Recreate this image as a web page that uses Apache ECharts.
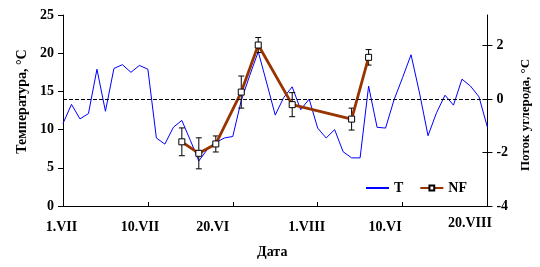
<!DOCTYPE html>
<html>
<head>
<meta charset="utf-8">
<script src="https://cdn.jsdelivr.net/npm/echarts@6/dist/echarts.min.js"></script>
<style>html,body{margin:0;padding:0;background:#fff;}#c{width:540px;height:267px;}</style>
</head>
<body>
<div id="c"></div>
<script>
// Daily temperature, 1.VII .. 20.VIII (index = day number from start)
const tempC = [10.8, 13.3, 11.4, 12.1, 17.9, 12.4, 18.0, 18.5, 17.5, 18.4,
  17.9, 8.9, 8.1, 10.3, 11.2, 8.6, 5.9, 7.4, 8.3, 8.9,
  9.1, 13.8, 17.1, 20.2, 16.1, 11.9, 14.2, 15.6, 12.6, 14.0,
  10.2, 8.9, 10.0, 7.1, 6.3, 6.3, 15.7, 10.3, 10.2, 13.9,
  16.8, 19.8, 14.8, 9.2, 12.2, 14.5, 13.2, 16.6, 15.7, 14.3,
  10.3];
// Carbon flux measurements
const nfDays = [14, 16, 18, 21, 23, 27, 34, 36];
const nfValues = [-1.6, -2.03, -1.68, 0.26, 2.02, -0.21, -0.75, 1.56];
const nfErrors = [0.52, 0.58, 0.3, 0.6, 0.28, 0.45, 0.41, 0.29];
// x tick labels (every 10 days)
const xTickLabels = ['1.VII', '10.VII', '20.VI', '1.VIII', '10.VI', '20.VIII'];
const leftTicks = [0, 5, 10, 15, 20, 25];
const rightTicks = [-4, -2, 0, 2];
const thresholdT = 14;

const FONT = 'Liberation Serif';
const tData = tempC.map((v, i) => [i, v]);
const nfData = nfDays.map((d, i) => [d, nfValues[i]]);
const errData = nfDays.map((d, i) => [d, nfValues[i] - nfErrors[i], nfValues[i] + nfErrors[i]]);

const labelPads = [[4,3,0,0],[4,16,0,0],[4,40,0,0],[4,22,0,0],[4,35,0,0],[0,35,0,0]];
const rich = {};
labelPads.forEach((p, i) => {
  rich['l' + i] = {padding: p, fontFamily: FONT, fontWeight: 'bold', fontSize: 14, color: '#000'};
});

const chart = echarts.init(document.getElementById('c'), null, {renderer: 'canvas'});
chart.setOption({
  animation: false,
  backgroundColor: '#fff',
  grid: {left: 63, right: 52, top: 15, bottom: 61},
  legend: {
    left: 360, top: 176,
    itemWidth: 23, itemHeight: 6, itemGap: 16,
    textStyle: {fontFamily: FONT, fontWeight: 'bold', fontSize: 14, color: '#000'},
    data: [
      {name: 'T', itemStyle: {opacity: 0}},
      {name: 'NF'}
    ]
  },
  xAxis: {
    type: 'value', min: 0, max: 50, interval: 10,
    name: 'Дата', nameLocation: 'middle', nameGap: 39,
    nameTextStyle: {fontFamily: FONT, fontWeight: 'bold', fontSize: 14, color: '#000', padding: [0, 6, 0, 0]},
    axisLine: {lineStyle: {color: '#000', width: 1}},
    axisTick: {inside: true, length: 4, lineStyle: {color: '#000'}},
    splitLine: {show: false},
    axisLabel: {
      margin: 10,
      formatter: v => '{l' + (v / 10) + '|' + xTickLabels[v / 10] + '}',
      rich: rich
    }
  },
  yAxis: [
    {
      type: 'value', min: 0, max: 25, interval: 5, position: 'left',
      name: 'Температура, °C', nameLocation: 'middle', nameGap: 33, nameRotate: 90,
      nameTextStyle: {fontFamily: FONT, fontWeight: 'bold', fontSize: 14, color: '#000', padding: [0, 0, 0, 18]},
      axisLine: {show: true, lineStyle: {color: '#000', width: 1}},
      axisTick: {show: true, inside: false, length: 5, lineStyle: {color: '#000'}},
      splitLine: {show: false},
      axisLabel: {margin: 9, fontFamily: FONT, fontWeight: 'bold', fontSize: 14, color: '#000',
        customValues: leftTicks}
    },
    {
      type: 'value', min: -4, max: 22 / 7, position: 'right',
      name: 'Поток углерода, °C', nameLocation: 'middle', nameGap: 24, nameRotate: 90,
      nameTextStyle: {fontFamily: FONT, fontWeight: 'bold', fontSize: 13, color: '#000', padding: [0, 9, 0, 0]},
      axisLine: {show: true, lineStyle: {color: '#000', width: 1}},
      axisTick: {show: true, inside: false, length: 5, lineStyle: {color: '#000'}, customValues: rightTicks},
      splitLine: {show: false},
      axisLabel: {margin: 9, fontFamily: FONT, fontWeight: 'bold', fontSize: 14, color: '#000',
        customValues: rightTicks}
    },
    {
      type: 'value', min: -4, max: 22 / 7, position: 'right',
      axisLine: {show: false},
      axisTick: {show: true, inside: true, length: 5, lineStyle: {color: '#000'}, customValues: rightTicks},
      splitLine: {show: false},
      axisLabel: {show: false}
    }
  ],
  series: [
    {
      name: 'T', type: 'line', xAxisIndex: 0, yAxisIndex: 0, data: tData,
      showSymbol: false, symbol: 'none', z: 2,
      lineStyle: {color: '#0000ff', width: 1},
      itemStyle: {color: '#0000ff'},
      emphasis: {disabled: true},
      markLine: {
        silent: true, symbol: 'none', label: {show: false},
        lineStyle: {color: '#000', width: 1, type: [4, 2]},
        data: [{yAxis: thresholdT}]
      }
    },
    {
      type: 'custom', xAxisIndex: 0, yAxisIndex: 1, data: errData, z: 3,
      renderItem: (params, api) => {
        const x = api.value(0);
        const lo = api.coord([x, api.value(1)]);
        const hi = api.coord([x, api.value(2)]);
        const w = 3;
        const st = {stroke: '#000', lineWidth: 1};
        return {
          type: 'group',
          children: [
            {type: 'line', shape: {x1: lo[0], y1: lo[1], x2: hi[0], y2: hi[1]}, style: st},
            {type: 'line', shape: {x1: lo[0] - w, y1: lo[1], x2: lo[0] + w, y2: lo[1]}, style: st},
            {type: 'line', shape: {x1: hi[0] - w, y1: hi[1], x2: hi[0] + w, y2: hi[1]}, style: st}
          ]
        };
      }
    },
    {
      name: 'NF', type: 'line', xAxisIndex: 0, yAxisIndex: 1, data: nfData, z: 4,
      symbol: 'rect', symbolSize: 6, showSymbol: true,
      lineStyle: {color: '#993300', width: 2.8},
      itemStyle: {color: '#fff', borderColor: '#000', borderWidth: 1},
      emphasis: {disabled: true}
    }
  ]
});
</script>
</body>
</html>
